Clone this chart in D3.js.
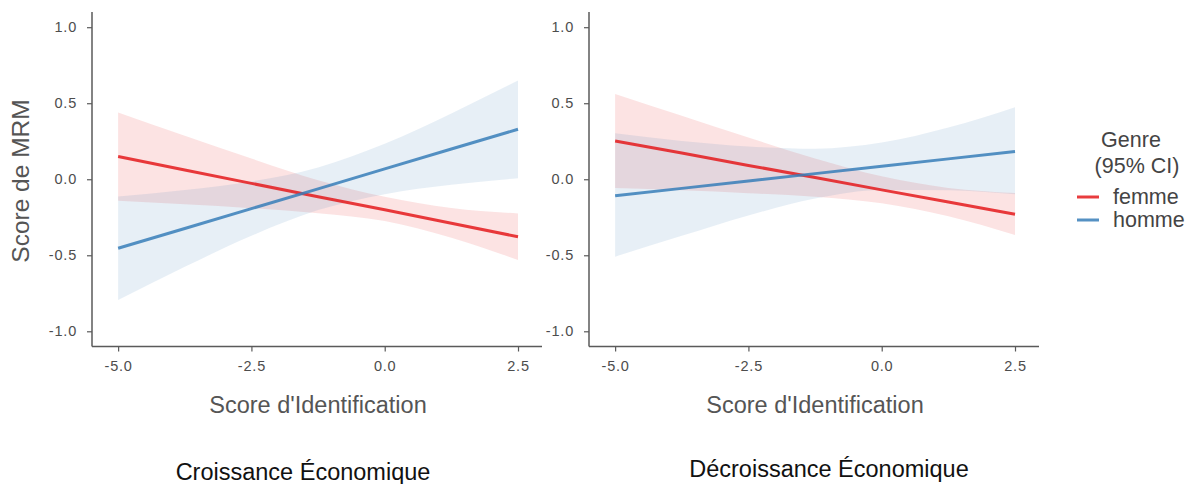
<!DOCTYPE html>
<html><head><meta charset="utf-8">
<script src="https://cdn.jsdelivr.net/npm/d3@7"></script>
<style>
body{margin:0;background:#fff;}
text{font-family:"Liberation Sans",Arial,sans-serif;}
</style></head>
<body><svg id="c" width="1200" height="484"></svg>
<script>
// ---- data ----
const panels = ["Croissance Économique", "Décroissance Économique"];
const groups = ["femme", "homme"];
const xs = [-5, -3.75, -2.5, -1.25, 0, 1.25, 2.5];
// Croissance
const croisFemmeFit = [0.149, 0.061, -0.027, -0.115, -0.200, -0.290, -0.378];
const croisFemmeLow = [-0.141, -0.164, -0.190, -0.224, -0.275, -0.385, -0.531];
const croisFemmeHigh = [0.439, 0.286, 0.136, -0.006, -0.115, -0.189, -0.225];
const croisHommeFit = [-0.454, -0.324, -0.193, -0.063, 0.068, 0.199, 0.329];
const croisHommeLow = [-0.794, -0.576, -0.372, -0.203, -0.098, -0.036, 0.007];
const croisHommeHigh = [-0.114, -0.071, -0.015, 0.078, 0.234, 0.433, 0.649];
// Décroissance
const decroisFemmeFit = [0.252, 0.172, 0.091, 0.011, -0.070, -0.150, -0.230];
const decroisFemmeLow = [-0.058, -0.073, -0.092, -0.115, -0.158, -0.243, -0.366];
const decroisFemmeHigh = [0.561, 0.417, 0.274, 0.137, 0.019, -0.057, -0.090];
const decroisHommeFit = [-0.108, -0.060, -0.011, 0.037, 0.086, 0.134, 0.182];
const decroisHommeLow = [-0.509, -0.372, -0.238, -0.127, -0.070, -0.072, -0.099];
const decroisHommeHigh = [0.303, 0.252, 0.216, 0.201, 0.241, 0.340, 0.474];
const xTicks = [-5.0, -2.5, 0.0, 2.5];
const yTicks = [-1.0, -0.5, 0.0, 0.5, 1.0];

const series = [
  [ {g:"femme", fit:croisFemmeFit, lo:croisFemmeLow, hi:croisFemmeHigh},
    {g:"homme", fit:croisHommeFit, lo:croisHommeLow, hi:croisHommeHigh} ],
  [ {g:"femme", fit:decroisFemmeFit, lo:decroisFemmeLow, hi:decroisFemmeHigh},
    {g:"homme", fit:decroisHommeFit, lo:decroisHommeLow, hi:decroisHommeHigh} ]
];
const colors = {femme:"#E41A1C", homme:"#377EB8"};

const svg = d3.select("#c");
const panelX = [92, 589];
const pw = 450;
const plotTop = 12, plotBottom = 346.5;
const y = d3.scaleLinear().domain([-1.1, 1.1]).range([plotBottom, plotTop]);
const axisCol = "#5a5a5a", tickTextCol = "#4d4d4d", titleCol = "#555";
const fmt = v => d3.format(".1f")(v).replace("\u2212", "-");

panels.forEach((title, pi) => {
  const x0 = panelX[pi];
  const x = d3.scaleLinear().domain([-5.49, 2.95]).range([x0, x0 + pw]);
  const g = svg.append("g");
  // ribbons
  series[pi].forEach(s => {
    const pts = xs.map((xv, i) => ({x: xv, lo: s.lo[i], hi: s.hi[i]}));
    g.append("path").datum(pts)
      .attr("d", d3.area().x(d => x(d.x)).y0(d => y(d.lo)).y1(d => y(d.hi)).curve(d3.curveMonotoneX))
      .attr("fill", colors[s.g]).attr("fill-opacity", 0.12);
  });
  series[pi].forEach(s => {
    const pts = xs.map((xv, i) => ({x: xv, v: s.fit[i]}));
    g.append("path").datum(pts)
      .attr("d", d3.line().x(d => x(d.x)).y(d => y(d.v)))
      .attr("fill", "none").attr("stroke", colors[s.g]).attr("stroke-width", 3).attr("stroke-opacity", 0.85);
  });
  // axes
  const xa = g.append("g").attr("transform", `translate(0,${plotBottom})`)
    .call(d3.axisBottom(x).tickValues(xTicks).tickFormat(fmt).tickSize(5).tickPadding(9));
  const ya = g.append("g").attr("transform", `translate(${x0},0)`)
    .call(d3.axisLeft(y).tickValues(yTicks).tickFormat(fmt).tickSize(5).tickPadding(10));
  [xa, ya].forEach(a => {
    a.select(".domain").attr("stroke", axisCol).attr("stroke-width", 1.5);
    a.selectAll(".tick line").attr("stroke", axisCol).attr("stroke-width", 1.2);
    a.selectAll(".tick text").attr("fill", tickTextCol).attr("font-size", 14.5).attr("letter-spacing", 0.8)
      .attr("font-family", '"Liberation Sans",Arial,sans-serif');
  });
  ya.select(".domain").attr("d", `M0,${plotTop}V${plotBottom}`);
  xa.select(".domain").attr("d", `M${x0},0H${x0 + pw}`);
  // x title
  g.append("text").attr("x", x0 + pw / 2 + 1).attr("y", 413).attr("text-anchor", "middle")
    .attr("font-size", 23.5).attr("fill", titleCol).text("Score d'Identification");
  // panel caption
  g.append("text").attr("x", pi === 0 ? 303 : 829).attr("y", pi === 0 ? 480 : 477).attr("text-anchor", "middle")
    .attr("font-size", 23.5).attr("fill", "#111").text(title);
});
// y title
svg.append("text").attr("transform", "translate(29,181) rotate(-90)").attr("text-anchor", "middle")
  .attr("font-size", 24.5).attr("fill", titleCol).text("Score de MRM");

// legend
const lg = svg.append("g");
lg.append("text").attr("x", 1131).attr("y", 147).attr("text-anchor", "middle").attr("font-size", 21.5).attr("fill", "#444").text("Genre");
lg.append("text").attr("x", 1137).attr("y", 173).attr("text-anchor", "middle").attr("font-size", 21.5).attr("fill", "#444").text("(95% CI)");
groups.forEach((gname, i) => {
  const yy = 197 + i * 23;
  lg.append("line").attr("x1", 1077).attr("x2", 1099).attr("y1", yy).attr("y2", yy)
    .attr("stroke", colors[gname]).attr("stroke-width", 3).attr("stroke-opacity", 0.85);
  lg.append("text").attr("x", 1113).attr("y", yy + 7).attr("font-size", 21.5).attr("fill", "#444").text(gname);
});
</script></body></html>
